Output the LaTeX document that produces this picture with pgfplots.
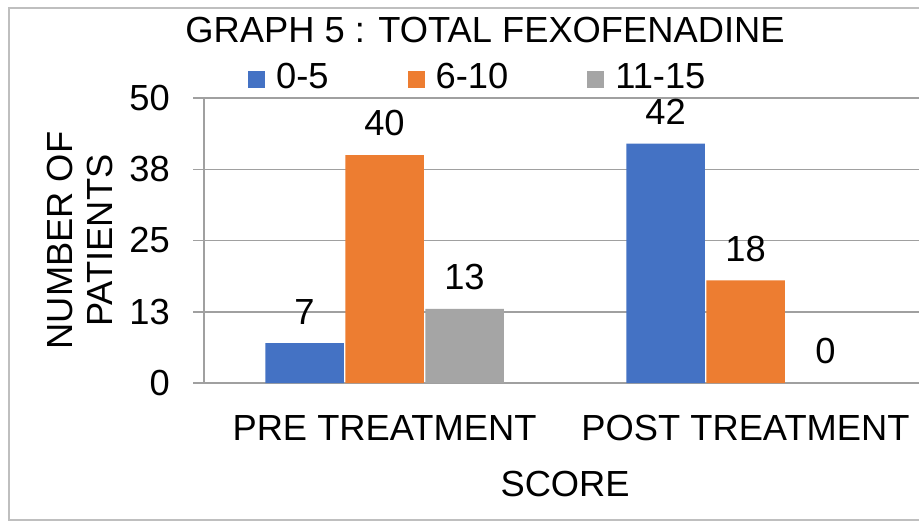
\documentclass[border=0pt]{standalone}
\usepackage{fontspec}
\setmainfont{Liberation Sans}
\usepackage{pgfplots}
\pgfplotsset{compat=1.18}
\definecolor{cblue}{HTML}{4472C4}
\definecolor{corange}{HTML}{ED7D31}
\definecolor{cgray}{HTML}{A5A5A5}
\definecolor{gridc}{HTML}{A0A0A0}
\definecolor{framec}{HTML}{BFBFBF}
\newcommand\bigf{\fontsize{36.3bp}{41bp}\selectfont}
\begin{document}
\begin{tikzpicture}
\useasboundingbox (0,0) rectangle (919bp,522bp);
\fill[white] (0,0) rectangle (919bp,522bp);
\draw[framec, line width=2bp] (925bp,514bp) -- (9bp,514bp) -- (9bp,2bp) -- (925bp,2bp);
\begin{axis}[
  at={(204bp,139bp)}, anchor=south west,
  scale only axis, width=715bp, height=285bp,
  xmin=-0.5, xmax=1.4806, ymin=0, ymax=50,
  ybar=1.5bp, bar width=78.5bp,
  /pgf/number format/assume math mode=true,
  font=\bigf,
  axis x line*=bottom, axis y line*=left,
  axis line style={gridc, line width=1.5bp, -},
  xtick={0,1}, xticklabels={PRE TREATMENT, POST TREATMENT},
  major x tick style={draw=none},
  extra x ticks={-0.5,0.5},
  extra x tick labels={},
  extra x tick style={major tick length=11bp, tick align=outside, tick style={gridc, line width=1.5bp}, grid=none},
  xticklabel style={font=\bigf, anchor=base, inner sep=0pt, yshift=-46bp},
  ytick={0,12.5,25,37.5,50}, yticklabels={0,13,25,38,50},
  ytick style={gridc, line width=1.5bp},
  major tick length=11bp, tick align=outside,
  yticklabel style={font=\bigf, anchor=east, inner sep=0pt, xshift=-23bp},
  ymajorgrids, grid style={gridc, line width=1.5bp},
  ylabel={\vbox{\offinterlineskip\hbox to 0pt{\hss NUMBER OF\hss}\vskip 15bp\hbox to 0pt{\hss PATIENTS\hss}}},
  ylabel style={font=\bigf, inner sep=0pt, at={(axis description cs:-0.1734,0.5)}, anchor=center},
  xlabel={SCORE},
  xlabel style={font=\bigf, at={(axis description cs:0.505,-0.4)}, anchor=base, inner sep=0pt},
  title={GRAPH 5 : TOTAL FEXOFENADINE},
  title style={font=\bigf, at={(axis description cs:0.393,1.175)}, anchor=base, inner sep=0pt, yshift=0pt},
  nodes near coords,
  every node near coord/.append style={font=\bigf, anchor=south, inner sep=0pt, yshift=18.5bp, black},
  legend columns=-1,
  legend image code/.code={\fill[#1] (0bp,-11bp) rectangle (17bp,6bp);},
  legend style={draw=none, fill=none, font=\bigf, inner sep=0pt, row sep=0pt,
    at={(axis description cs:0.0615,1.0754)}, anchor=west,
    nodes={inner sep=0pt},
    /tikz/every odd column/.append style={column sep=11bp},
    /tikz/every even column/.append style={column sep=79bp}},
  clip=false,
]
\addplot[fill=cblue, draw=none] coordinates {(0,7) (1,42)};
\addplot[fill=corange, draw=none] coordinates {(0,40) (1,18)};
\addplot[fill=cgray, draw=none] coordinates {(0,13) (1,0)};
\legend{0-5,6-10,11-15}
\end{axis}
\end{tikzpicture}
\end{document}
